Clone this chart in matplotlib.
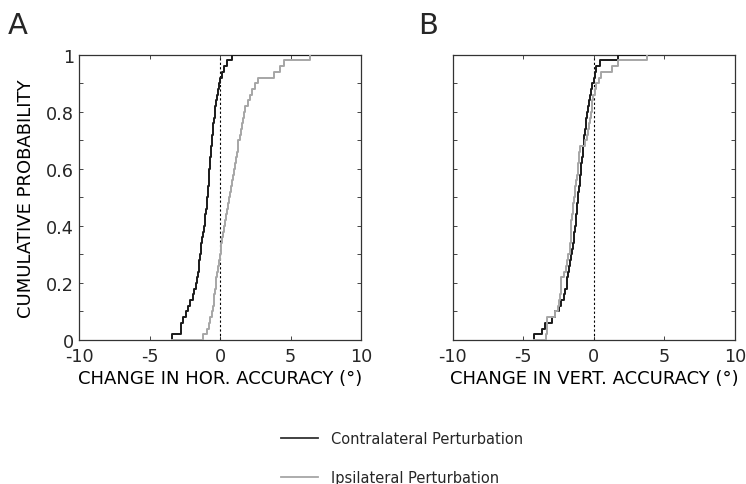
import numpy as np
import matplotlib
matplotlib.use("Agg")
import matplotlib.pyplot as plt
from matplotlib.ticker import MultipleLocator

# sorted per-trial changes (deg), 50 trials per condition
hor_contra = [-3.38, -2.79, -2.79, -2.60, -2.45, -2.27, -2.10, -1.95, -1.84, -1.74,
              -1.63, -1.55, -1.51, -1.46, -1.42, -1.37, -1.33, -1.28, -1.22, -1.16,
              -1.10, -1.04, -0.98, -0.94, -0.91, -0.88, -0.85, -0.82, -0.79, -0.76,
              -0.73, -0.70, -0.67, -0.63, -0.60, -0.56, -0.52, -0.48, -0.44, -0.39,
              -0.35, -0.29, -0.22, -0.16, -0.07, 0.02, 0.15, 0.30, 0.50, 0.83]
hor_ipsi = [-1.18, -0.95, -0.80, -0.68, -0.60, -0.52, -0.45, -0.40, -0.35, -0.31,
            -0.28, -0.24, -0.18, -0.10, -0.03, 0.04, 0.10, 0.17, 0.23, 0.29,
            0.35, 0.41, 0.46, 0.53, 0.62, 0.70, 0.78, 0.86, 0.94, 1.00,
            1.06, 1.12, 1.18, 1.24, 1.30, 1.38, 1.46, 1.54, 1.62, 1.70,
            1.80, 1.95, 2.13, 2.30, 2.48, 2.72, 3.85, 4.25, 4.50, 6.40]
vert_contra = [-4.23, -3.70, -3.48, -3.00, -2.77, -2.46, -2.30, -2.15, -2.02, -1.93,
               -1.87, -1.82, -1.75, -1.68, -1.60, -1.55, -1.50, -1.44, -1.38, -1.33,
               -1.29, -1.25, -1.21, -1.17, -1.13, -1.09, -1.05, -1.00, -0.96, -0.92,
               -0.88, -0.84, -0.80, -0.76, -0.72, -0.68, -0.63, -0.58, -0.53, -0.47,
               -0.40, -0.33, -0.26, -0.18, -0.10, -0.02, 0.10, 0.19, 0.43, 1.72]
vert_ipsi = [-3.36, -3.35, -3.34, -3.33, -2.77, -2.53, -2.47, -2.41, -2.36, -2.32,
             -2.30, -2.10, -2.00, -1.90, -1.80, -1.70, -1.67, -1.64, -1.62, -1.60,
             -1.59, -1.58, -1.50, -1.45, -1.40, -1.35, -1.30, -1.25, -1.20, -1.15,
             -1.10, -1.06, -1.03, -1.00, -0.64, -0.50, -0.40, -0.33, -0.26, -0.20,
             -0.14, -0.10, -0.05, 0.05, 0.19, 0.35, 0.54, 1.30, 1.72, 3.74]

xlabels = ["CHANGE IN HOR. ACCURACY (°)", "CHANGE IN VERT. ACCURACY (°)"]
letters = ["A", "B"]
names = ["Contralateral Perturbation", "Ipsilateral Perturbation"]

BLACK = "#1a1a1a"
GRAY = "#a6a6a6"
TXT = "#262626"

plt.rcParams["font.family"] = "DejaVu Sans"
plt.rcParams["axes.unicode_minus"] = False
plt.rcParams["text.color"] = TXT
plt.rcParams["xtick.color"] = TXT
plt.rcParams["ytick.color"] = TXT


def ecdf(ax, vals, lo, hi, **kw):
    v = np.sort(np.asarray(vals))
    n = len(v)
    xs = np.concatenate([[lo], v, [hi]])
    ys = np.concatenate([[0], np.arange(1, n + 1) / n, [1]])
    return ax.step(xs, ys, where="post", **kw)


fig = plt.figure(figsize=(7.46, 4.85), dpi=100)
ax1 = fig.add_axes([0.106, 0.297, 0.378, 0.588])
ax2 = fig.add_axes([0.607, 0.297, 0.378, 0.588])
letter_x = [0.011, 0.56]

for i, (ax, contra, ipsi) in enumerate([(ax1, hor_contra, hor_ipsi),
                                        (ax2, vert_contra, vert_ipsi)]):
    lo = min(min(contra), min(ipsi))
    hi = max(max(contra), max(ipsi))
    ax.axvline(0, color="black", lw=0.8, ls=(0, (2, 2)), zorder=1)
    ecdf(ax, contra, lo, hi, color=BLACK, lw=1.4, zorder=3)
    ecdf(ax, ipsi, lo, hi, color=GRAY, lw=1.4, zorder=4)

    ax.set_xlim(-10, 10)
    ax.set_ylim(0, 1)
    ax.xaxis.set_major_locator(MultipleLocator(5))
    ax.yaxis.set_major_locator(MultipleLocator(0.2))
    ax.yaxis.set_minor_locator(MultipleLocator(0.1))
    ax.tick_params(which="both", direction="in", top=True, right=True,
                   length=3, width=0.6, labelsize=12.7)
    ax.tick_params(axis="x", pad=5)
    ax.yaxis.set_major_formatter(plt.FuncFormatter(lambda v, p: "%g" % round(v, 1)))
    for s in ax.spines.values():
        s.set_color("#333333")
        s.set_linewidth(0.9)
        s.set_zorder(2)
    ax.set_xlabel(xlabels[i], fontsize=13, labelpad=3)
    fig.text(letter_x[i], 0.975, letters[i], fontsize=21, va="top", ha="left")

ax1.set_ylabel("CUMULATIVE PROBABILITY", fontsize=13, labelpad=8)
ax2.tick_params(labelleft=False)

leg_lines = [plt.Line2D([], [], color="#333333", lw=1.3),
             plt.Line2D([], [], color=GRAY, lw=1.3)]
fig.legend(leg_lines, names, loc="center", bbox_to_anchor=(0.539, 0.053),
           frameon=False, fontsize=10.5, handlelength=2.5, handletextpad=0.9,
           labelspacing=1.65)

fig.savefig("out.png", dpi=100)
